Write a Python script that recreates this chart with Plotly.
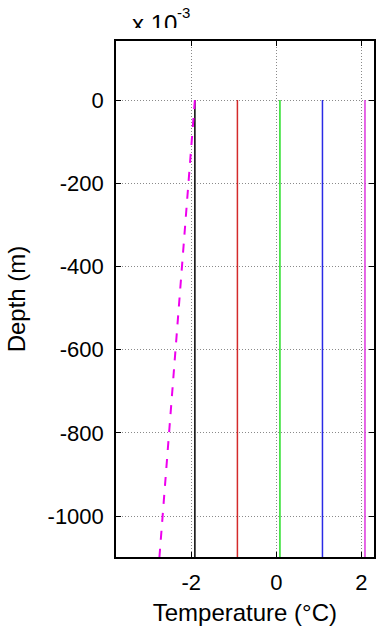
import plotly.graph_objects as go

# Temperatures are in units of 1e-3 degC (the axis carries an "x 10^-3" multiplier)
depth_span = [0, -1100]                         # m
profile_temps = [-1.915, -0.915, 0.085, 1.085, 2.085]
profile_colors = ["#000000", "#d42a2a", "#22dd22", "#2a2ae6", "#dd33dd"]
trend_temps = [-1.915, -2.75]                   # dashed profile, top -> bottom
x_ticks = [-2, 0, 2]
y_ticks = [0, -200, -400, -600, -800, -1000]

W, H = 376, 631
left, right, top, bottom = 116, 373.7, 41, 557
FONT = "Liberation Sans, Arial"

fig = go.Figure()

for t, c in zip(profile_temps, profile_colors):
    fig.add_trace(go.Scatter(
        x=[t, t], y=depth_span, mode="lines",
        line=dict(color=c, width=1.5), showlegend=False, hoverinfo="skip"))

fig.add_trace(go.Scatter(
    x=trend_temps, y=depth_span, mode="lines",
    line=dict(color="#ee00ee", width=2, dash="dash"),
    showlegend=False, hoverinfo="skip"))

# exponent label above the axes, clipped by its own thin strip of axes
fig.add_trace(go.Scatter(
    x=[132], y=[26], mode="text", text=["x 10"], textposition="middle right",
    textfont=dict(family=FONT, size=24, color="black"),
    xaxis="x2", yaxis="y2", cliponaxis=True, showlegend=False, hoverinfo="skip"))
fig.add_trace(go.Scatter(
    x=[177], y=[14], mode="text", text=["-3"], textposition="middle right",
    textfont=dict(family=FONT, size=15, color="black"),
    xaxis="x2", yaxis="y2", cliponaxis=True, showlegend=False, hoverinfo="skip"))

axis_common = dict(
    showline=True, linecolor="black", linewidth=1.5, mirror="ticks",
    ticks="inside", ticklen=5, tickwidth=1, tickcolor="black",
    showgrid=True, gridcolor="#8a8a8a", griddash="1px,2px", gridwidth=1,
    zeroline=False, automargin=False,
    tickfont=dict(family=FONT, size=22, color="black"),
)

fig.update_layout(
    width=W, height=H,
    margin=dict(l=0, r=0, t=0, b=0),
    paper_bgcolor="white", plot_bgcolor="white",
    xaxis=dict(
        axis_common, domain=[left / W, right / W],
        range=[-3.77, 2.29], tickvals=x_ticks, ticktext=[str(v) for v in x_ticks],
        ticklabelstandoff=5,
        title=dict(text="Temperature (°C)", standoff=10,
                   font=dict(family=FONT, size=24, color="black")),
    ),
    yaxis=dict(
        axis_common, domain=[(H - bottom) / H, (H - top) / H],
        range=[-1098, 142], tickvals=y_ticks, ticktext=[str(v) for v in y_ticks],
        ticklabelstandoff=6,
        title=dict(text="Depth (m)", standoff=15,
                   font=dict(family=FONT, size=24, color="black")),
    ),
    xaxis2=dict(domain=[0, 1], range=[0, W], visible=False, anchor="y2"),
    yaxis2=dict(domain=[(H - 28) / H, 1], range=[28, 0], visible=False, anchor="x2"),
)

fig.write_html("out.html")
